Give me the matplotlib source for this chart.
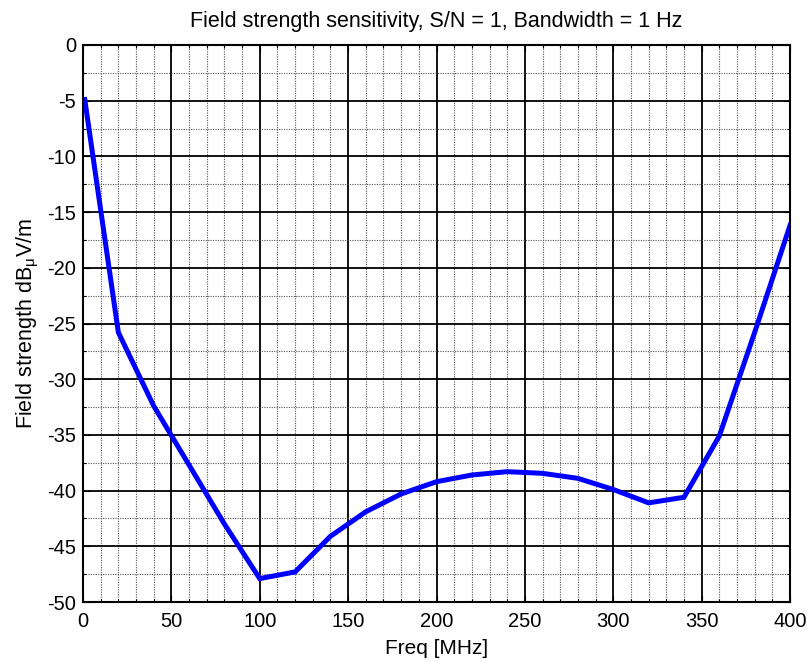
import matplotlib
matplotlib.use("Agg")
import matplotlib.pyplot as plt
from matplotlib.ticker import MultipleLocator

plt.rcParams['font.family'] = ['Liberation Sans', 'DejaVu Sans']
plt.rcParams['mathtext.fontset'] = 'custom'
plt.rcParams['mathtext.rm'] = 'Liberation Sans'
plt.rcParams['mathtext.it'] = 'Liberation Sans:italic'

freq = [1, 20, 40, 60, 80, 100, 120, 140, 160, 180, 200, 220, 240, 260,
        280, 300, 320, 340, 360, 380, 400]
field = [-4.9, -25.8, -32.4, -37.7, -43.0, -47.9, -47.3, -44.1, -41.9, -40.3,
         -39.2, -38.6, -38.3, -38.45, -38.9, -39.9, -41.1, -40.6, -35.1, -25.8,
         -16.2]

xticks = [0, 50, 100, 150, 200, 250, 300, 350, 400]
yticks = [0, -5, -10, -15, -20, -25, -30, -35, -40, -45, -50]

fig = plt.figure(figsize=(8.09, 6.62), dpi=100)
ax = fig.add_axes([83/809, 1-602/662, 707/809, 557/662])

ax.plot(freq, field, color=(0, 0, 1), lw=3.6, solid_joinstyle='miter', zorder=5)

ax.set_xlim(0, 400)
ax.set_ylim(-50, 0)
ax.set_xticks(xticks)
ax.set_yticks(yticks)
ax.set_xticklabels([str(v) for v in xticks])
ax.set_yticklabels([str(v) for v in yticks])
ax.xaxis.set_minor_locator(MultipleLocator(10))
ax.yaxis.set_minor_locator(MultipleLocator(2.5))

ax.grid(which='major', color='black', lw=1.3, ls='-')
ax.grid(which='minor', color='#555555', lw=0.8, ls=(0, (1, 1.2)))
ax.set_axisbelow(True)

ax.tick_params(which='both', direction='in', top=True, right=True,
               colors='black', width=0.8)
ax.tick_params(axis='x', which='major', labelsize=14.5, length=5, pad=7)
ax.tick_params(axis='y', which='major', labelsize=14.5, length=5, pad=5)
ax.tick_params(which='minor', length=2.5)
for s in ax.spines.values():
    s.set_linewidth(1.5)
    s.set_zorder(6)

ax.set_title('Field strength sensitivity, S/N = 1, Bandwidth = 1 Hz',
             fontsize=15.5, pad=13)
ax.set_xlabel('Freq [MHz]', fontsize=15, labelpad=6)
ax.set_ylabel(r'Field strength dB$_\mathrm{\mu}$V/m', fontsize=15.5, labelpad=4)

fig.savefig('out.png', dpi=100)
